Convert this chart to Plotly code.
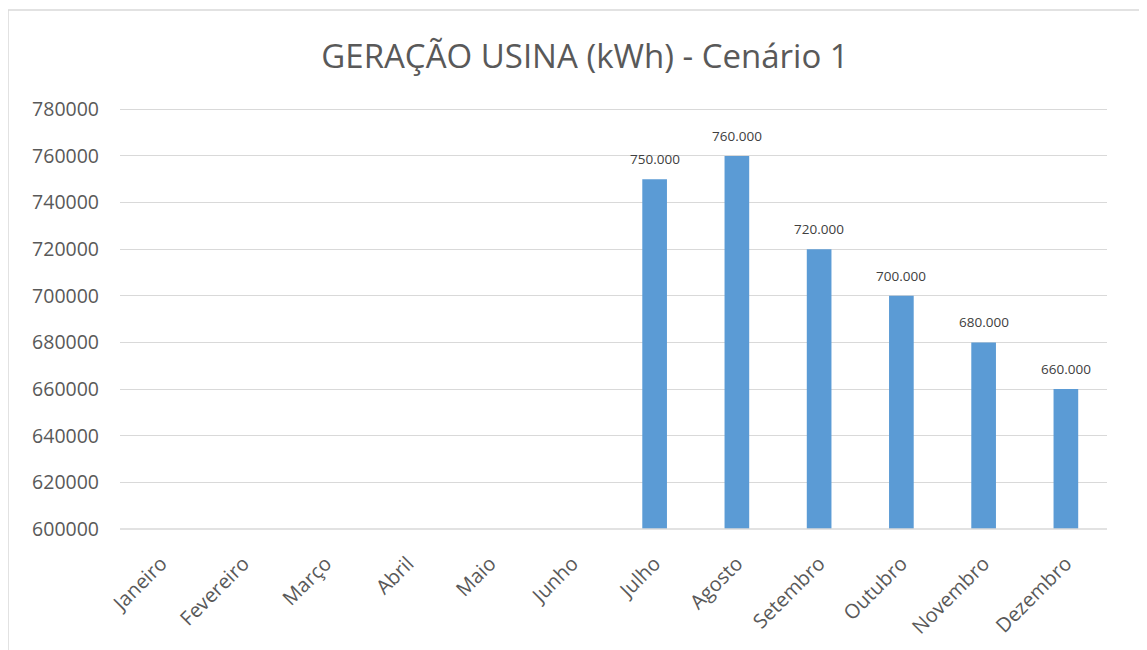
import plotly.graph_objects as go

months = ["Janeiro", "Fevereiro", "Março", "Abril", "Maio", "Junho",
          "Julho", "Agosto", "Setembro", "Outubro", "Novembro", "Dezembro"]
geracao = [None, None, None, None, None, None,
           750000, 760000, 720000, 700000, 680000, 660000]
y_ticks = [600000, 620000, 640000, 660000, 680000, 700000, 720000, 740000, 760000, 780000]

OFF = 8  # page body margin
W, H = 1147 - OFF, 650 - OFF
L, R, T, B = 120 - OFF, 40, 99, 121
pw, ph = W - L - R, H - T - B

fig = go.Figure()
fig.add_trace(go.Bar(
    x=months, y=geracao,
    marker=dict(color="#5B9BD5", line=dict(width=0)),
    width=0.30,
    cliponaxis=False,
    hoverinfo="x+y",
))

annotations = []
for m, v in zip(months, geracao):
    if v is None:
        continue
    annotations.append(dict(
        x=m, y=v, xref="x", yref="y",
        text=f"{v:,.0f}".replace(",", "."),
        showarrow=False, yanchor="bottom", xanchor="center", yshift=9,
        font=dict(family="Open Sans", size=13.5, color="#404040"),
    ))

grid_color = "#D9D9D9"
fig.update_layout(
    width=W, height=H,
    margin=dict(l=L, r=R, t=T, b=B, autoexpand=False),
    paper_bgcolor="white", plot_bgcolor="white",
    separators=",.",
    showlegend=False,
    title=dict(text="GERAÇÃO USINA (kWh) - Cenário 1",
               x=(585 - OFF) / W, xref="container", xanchor="center",
               y=1 - (56 - OFF) / H, yref="container", yanchor="middle",
               font=dict(family="Open Sans", size=33, color="#595959")),
    xaxis=dict(showgrid=False, showline=False, zeroline=False,
               tickangle=-45, ticks="",
               ticklabelstandoff=18,
               tickfont=dict(family="Open Sans", size=20, color="#595959"),
               range=[-0.5, 11.5]),
    yaxis=dict(range=[600000, 781000], tickvals=y_ticks, tickformat="d",
               showgrid=True, gridcolor=grid_color, gridwidth=1.3,
               zeroline=False, showline=False, ticks="",
               ticklabelstandoff=20,
               tickfont=dict(family="Open Sans", size=19.5, color="#595959")),
    bargap=0.7,
    annotations=annotations,
    shapes=[
        dict(type="rect", xref="paper", yref="paper",
             x0=(8 - OFF - L) / pw, x1=(W + 20 - L) / pw,
             y0=-(B + 20) / ph, y1=(H - B - (10 - OFF)) / ph,
             line=dict(color=grid_color, width=1.5),
             fillcolor="rgba(0,0,0,0)", layer="below"),
        dict(type="line", xref="paper", yref="paper",
             x0=0, x1=1, y0=0, y1=0,
             line=dict(color=grid_color, width=1.5), layer="above"),
    ],
)

fig.write_html("out.html")
